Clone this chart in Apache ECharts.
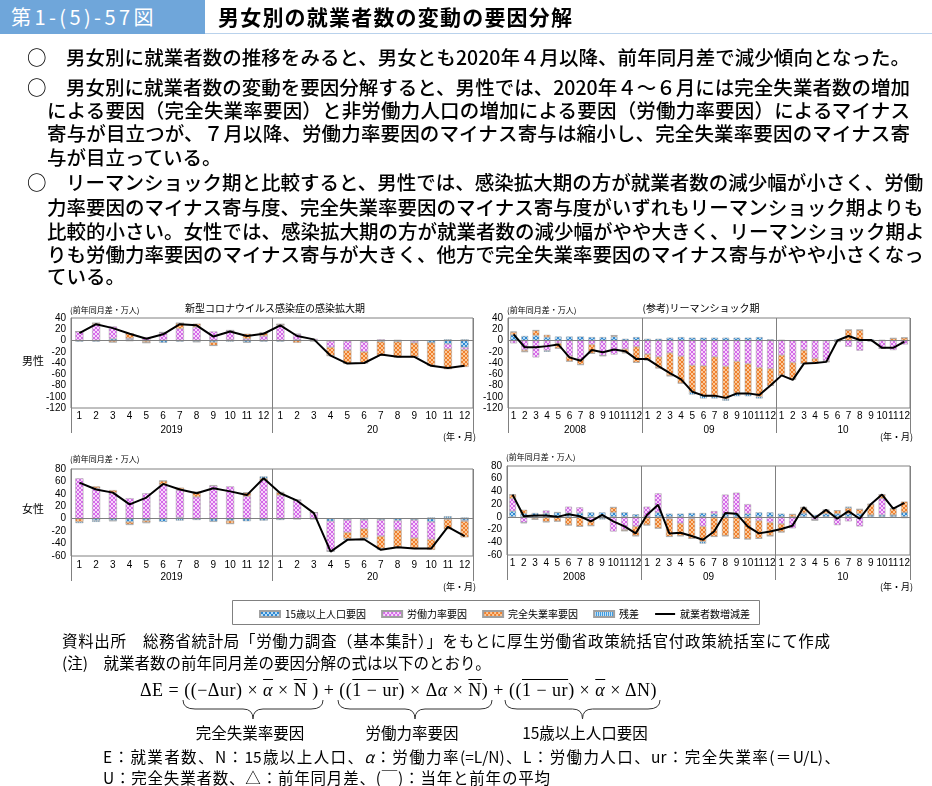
<!DOCTYPE html>
<html><head><meta charset="utf-8">
<script src="https://cdn.jsdelivr.net/npm/echarts@6/dist/echarts.min.js"></script>
<style>
body{margin:0;background:#fff;}
#wrap{position:relative;width:932px;height:786px;overflow:hidden;font-family:"Noto Sans CJK JP",sans-serif;background:#fff;}
#chart{position:absolute;left:0;top:0;width:932px;height:786px;}
.t{position:absolute;white-space:nowrap;line-height:1;color:#000;pointer-events:none;}
.j{text-align:justify;text-align-last:justify;}
.p{font-size:19.5px;font-weight:500;}
.n{font-size:15.5px;}
.s{font-family:"Liberation Serif","DejaVu Serif","Noto Sans CJK JP",serif;}
.ov{text-decoration:overline;}
.c{transform:translateX(-50%);}
</style></head><body>
<div id="wrap">
<div id="chart"></div>

<div style="position:absolute;left:0;top:0;width:205px;height:34px;background:#6fa6da"></div>
<div style="position:absolute;left:205px;top:33px;width:727px;height:1px;background:#b9d2ec"></div>
<div class="t" style="left:11px;top:7px;font-size:20px;color:#fff;letter-spacing:3.4px;">第1-(5)-57図</div>
<div class="t" style="left:218px;top:6px;font-size:21px;font-weight:bold;letter-spacing:1.2px;">男女別の就業者数の変動の要因分解</div>

<div class="t p" style="left:27px;top:47px;">○</div>
<div class="t p j" style="left:66px;top:47px;width:844px;">男女別に就業者数の推移をみると、男女とも2020年４月以降、前年同月差で減少傾向となった。</div>
<div class="t p" style="left:27px;top:77px;">○</div>
<div class="t p j" style="left:66px;top:77px;width:844px;">男女別に就業者数の変動を要因分解すると、男性では、2020年４～６月には完全失業者数の増加</div>
<div class="t p j" style="left:47px;top:100px;width:863px;">による要因（完全失業率要因）と非労働力人口の増加による要因（労働力率要因）によるマイナス</div>
<div class="t p j" style="left:47px;top:123px;width:863px;">寄与が目立つが、７月以降、労働力率要因のマイナス寄与は縮小し、完全失業率要因のマイナス寄</div>
<div class="t p" style="left:47px;top:147px;">与が目立っている。</div>
<div class="t p" style="left:27px;top:172px;">○</div>
<div class="t p j" style="left:66px;top:172px;width:844px;">リーマンショック期と比較すると、男性では、感染拡大期の方が就業者数の減少幅が小さく、労働</div>
<div class="t p j" style="left:47px;top:197px;width:863px;">力率要因のマイナス寄与度、完全失業率要因のマイナス寄与度がいずれもリーマンショック期よりも</div>
<div class="t p j" style="left:47px;top:221px;width:863px;">比較的小さい。女性では、感染拡大期の方が就業者数の減少幅がやや大きく、リーマンショック期よ</div>
<div class="t p j" style="left:47px;top:244px;width:863px;">りも労働力率要因のマイナス寄与が大きく、他方で完全失業率要因のマイナス寄与がやや小さくなっ</div>
<div class="t p" style="left:47px;top:266px;">ている。</div>

<div class="t c" style="left:275px;top:303px;font-size:10px;">新型コロナウイルス感染症の感染拡大期</div>
<div class="t c" style="left:701px;top:303px;font-size:10px;">(参考)リーマンショック期</div>
<div class="t" style="left:70px;top:306px;font-size:8px;">(前年同月差・万人)</div>
<div class="t" style="left:507px;top:306px;font-size:8px;">(前年同月差・万人)</div>
<div class="t" style="left:70px;top:455px;font-size:8px;">(前年同月差・万人)</div>
<div class="t" style="left:506px;top:453px;font-size:8px;">(前年同月差・万人)</div>
<div class="t" style="left:22px;top:355px;font-size:11px;">男性</div>
<div class="t" style="left:22px;top:503px;font-size:11px;">女性</div>
<div class="t" style="left:443px;top:432px;font-size:9px;">(年・月)</div>
<div class="t" style="left:880px;top:432px;font-size:9px;">(年・月)</div>
<div class="t" style="left:443px;top:582px;font-size:9px;">(年・月)</div>
<div class="t" style="left:880px;top:582px;font-size:9px;">(年・月)</div>

<div class="t n j" style="left:62px;top:633px;width:768px;">資料出所　総務省統計局「労働力調査（基本集計）」をもとに厚生労働省政策統括官付政策統括室にて作成</div>
<div class="t n" style="left:62px;top:655px;">(注)　就業者数の前年同月差の要因分解の式は以下のとおり。</div>
<div class="t s" style="left:140px;top:681px;font-size:18px;letter-spacing:0.5px;">ΔE = ((−Δur) × <span class="ov"><i>α</i></span> × <span class="ov">N</span> ) + ((<span class="ov">1 − ur</span>) × Δ<i>α</i> × <span class="ov">N</span>) + ((<span class="ov">1 − ur</span>) × <span class="ov"><i>α</i></span> × ΔN)</div>
<svg style="position:absolute;left:0;top:698px;pointer-events:none" width="932" height="26">
<path id="b1" fill="none" stroke="#333" stroke-width="1"/>
<path id="b2" fill="none" stroke="#333" stroke-width="1"/>
<path id="b3" fill="none" stroke="#333" stroke-width="1"/>
</svg>
<div class="t n c" style="left:250px;top:725px;">完全失業率要因</div>
<div class="t n c" style="left:412px;top:725px;">労働力率要因</div>
<div class="t n c" style="left:585px;top:725px;">15歳以上人口要因</div>
<div class="t n j" style="left:103px;top:749px;width:737px;">E：就業者数、N：15歳以上人口、<i>α</i>：労働力率(=L/N)、L：労働力人口、ur：完全失業率(＝U/L)、</div>
<div class="t n j" style="left:103px;top:770px;width:447px;">U：完全失業者数、△：前年同月差、(￣)：当年と前年の平均</div>
</div>

<script>
// ---------- tick / category labels ----------
const MONTHS12 = ['1','2','3','4','5','6','7','8','9','10','11','12'];
const monthsCovid = [...MONTHS12, ...MONTHS12];
const monthsLehman = [...MONTHS12, ...MONTHS12, ...MONTHS12];
const yearsCovid = ['2019', '20'];
const yearsLehman = ['2008', '09', '10'];
const seriesNames = ['15歳以上人口要因', '労働力率要因', '完全失業率要因', '残差', '就業者数増減差'];

// ---------- 男性・感染拡大期 (2019/1–2020/12) ----------
const menCovidPop   = [-2,-2,3,2,-1,-4,-2,-2,-3,1,-3,-2, -2,1,1,-1,-1,-2,-2,-2,-1,-4,-6,-12];
const menCovidLfr   = [16,28,22,2,6,14,21,24,16,17,3,8, 27,10,2,-11,-16,-18,2,1,-3,0,-9,-4];
const menCovidUnemp = [0,3,-3,9,-3,0,10,6,-6,0,9,6, 2,-4,-1,-15,-24,-20,-24,-27,-25,-40,-36,-31];
const menCovidResid = [0,0,0,-1,0,1,0,-1,0,-2,-1,0, 0,1,0,0,0,0,-1,-1,0,-1,2,2];
const menCovidTotal = [13,29,22,12,3,11,29,27,7,16,8,12, 27,8,2,-27,-41,-40,-25,-29,-29,-45,-49,-45];

// ---------- 男性・リーマンショック期 (2008/1–2010/12) ----------
const menLehmanPop   = [10,8,9,6,7,7,7,6,6,7,3,6, 3,3,5,6,5,5,5,5,5,5,6,2, 1,0,0,0,0,2,0,-2,2,1,0,0];
const menLehmanLfr   = [-5,-17,-30,-18,-5,-28,-33,-7,-27,-25,-15,-11, -24,-29,-22,-28,-44,-45,-29,-46,-37,-41,-48,-50, -26,-39,-17,-32,-36,-1,-11,-16,-1,-14,-17,-7];
const menLehmanUnemp = [5,-3,9,4,-9,-9,-10,-16,0,2,-7,-28, -11,-20,-41,-48,-48,-53,-71,-58,-57,-54,-52,-30, -36,-30,-24,-8,-2,-1,19,19,0,0,4,5];
const menLehmanResid = [1,0,0,-2,0,0,0,0,0,0,0,0, 0,0,0,0,-4,-5,-3,-3,-5,-4,-3,0, 0,0,0,0,0,0,0,0,0,0,0,0];
const menLehmanTotal = [11,-12,-12,-10,-7,-30,-36,-17,-21,-16,-19,-33, -33,-46,-58,-69,-91,-98,-98,-102,-94,-94,-97,-80, -62,-70,-41,-40,-38,0,8,1,1,-13,-13,-2];

// ---------- 女性・感染拡大期 ----------
const womenCovidPop   = [0,-3,-3,-5,-3,-5,2,-2,-4,-3,-4,-3, -2,-1,-1,-4,-2,-2,-2,-3,-2,-5,-1,-3];
const womenCovidLfr   = [65,49,42,33,41,55,44,35,53,52,36,62, 38,30,10,-48,-20,-14,-26,-15,-29,-28,1,-1];
const womenCovidUnemp = [-5,3,4,-4,-3,6,4,8,1,-5,6,3, 4,0,0,0,-10,-15,-20,-28,-17,-17,-16,-26];
const womenCovidResid = [-2,-2,-1,-1,-1,0,-3,0,-1,0,0,3, 1,0,0,-1,-2,-2,-2,0,0,2,3,2];
const womenCovidTotal = [58,47,42,23,34,56,47,41,49,44,38,65, 41,29,9,-53,-34,-33,-50,-46,-48,-48,-13,-28];

// ---------- 女性・リーマンショック期 ----------
const womenLehmanPop   = [9,5,6,6,7,6,6,7,7,7,7,4, 0,7,5,5,6,6,5,5,5,5,7,7, 5,0,5,3,5,5,5,5,3,3,3,7];
const womenLehmanLfr   = [20,-9,-2,4,0,10,9,-6,-2,-23,-20,-15, 16,30,-3,-10,-3,-15,4,30,33,15,-6,-9, -11,-18,1,-5,-1,-13,-7,-15,0,26,0,0];
const womenLehmanUnemp = [6,6,-2,-8,-7,-13,-15,-8,0,8,-2,-15, -13,-18,-28,-20,-31,-24,-31,-30,-34,-35,-28,-21, -13,4,9,0,6,5,9,7,17,6,10,17];
const womenLehmanResid = [0,-1,0,0,0,0,0,0,-2,0,0,0, 0,0,0,0,0,-3,0,0,0,0,0,0, 0,0,0,0,0,0,2,0,0,0,0,-2];
const womenLehmanTotal = [35,1,2,2,0,4,1,-7,3,-7,-15,-26, 3,19,-26,-25,-30,-36,-23,6,5,-15,-26,-23, -19,-14,15,-2,11,-3,9,-3,20,35,13,22];

// ---------- braces ----------
function brace(x1, x2){
  const m = (x1 + x2) / 2;
  return `M${x1},2 Q${x1},11 ${x1+12},11 L${m-10},11 Q${m},11 ${m},21 Q${m},11 ${m+10},11 L${x2-12},11 Q${x2},11 ${x2},2`;
}
document.getElementById('b1').setAttribute('d', brace(183, 323));
document.getElementById('b2').setAttribute('d', brace(338, 492));
document.getElementById('b3').setAttribute('d', brace(505, 660));

// ---------- patterns ----------
function pat(bg, fg, kind){
  const c = document.createElement('canvas'); c.width = 4; c.height = 4;
  const x = c.getContext('2d'); x.fillStyle = bg; x.fillRect(0,0,4,4); x.fillStyle = fg;
  if (kind === 'x') {
    [[0,0],[1,1],[2,2],[3,3],[3,0],[2,1],[1,2],[0,3]].forEach(p => x.fillRect(p[0], p[1], 1, 1));
  } else {
    x.fillRect(0,0,1,4); x.fillRect(2,0,1,4);
  }
  return {image: c, repeat: 'repeat'};
}
const fills = [
  pat('#b6ddf7', '#2f88d2', 'x'),
  pat('#f8d6fc', '#d46ae8', 'x'),
  pat('#fcc998', '#ee7f2e', 'x'),
  pat('#d6edfc', '#2a90dc', 's')
];

const panels = [
  {grid:{left:71, top:318, width:402, height:90}, months:monthsCovid, years:yearsCovid, min:-120, max:40,
   data:[menCovidPop, menCovidLfr, menCovidUnemp, menCovidResid, menCovidTotal], gap:'52%', mm:3, ym:17},
  {grid:{left:508, top:318, width:402, height:90}, months:monthsLehman, years:yearsLehman, min:-120, max:40,
   data:[menLehmanPop, menLehmanLfr, menLehmanUnemp, menLehmanResid, menLehmanTotal], gap:'40%', mm:3, ym:17},
  {grid:{left:71, top:469, width:402, height:87}, months:monthsCovid, years:yearsCovid, min:-60, max:80,
   data:[womenCovidPop, womenCovidLfr, womenCovidUnemp, womenCovidResid, womenCovidTotal], gap:'52%', mm:4, ym:16},
  {grid:{left:507, top:466, width:403, height:89}, months:monthsLehman, years:yearsLehman, min:-60, max:80,
   data:[womenLehmanPop, womenLehmanLfr, womenLehmanUnemp, womenLehmanResid, womenLehmanTotal], gap:'40%', mm:3, ym:17}
];

const gray = '#808080';
const FONT = '"Liberation Sans","Noto Sans CJK JP",sans-serif';
const option = {
  animation: false,
  textStyle: {fontFamily: FONT, color: '#000'},
  grid: [], xAxis: [], yAxis: [], series: [],
  legend: {
    left: 254, top: 604, itemWidth: 20, itemHeight: 6, itemGap: 15,
    textStyle: {fontSize: 10, color: '#000', fontFamily: '"Noto Sans CJK JP",sans-serif'},
    data: [
      {name: seriesNames[0], icon: 'rect'}, {name: seriesNames[1], icon: 'rect'},
      {name: seriesNames[2], icon: 'rect'}, {name: seriesNames[3], icon: 'rect'},
      {name: seriesNames[4], itemStyle: {color: 'rgba(0,0,0,0)', borderColor: 'rgba(0,0,0,0)', borderWidth: 0},
       lineStyle: {color: '#000', width: 2}}
    ]
  },
  graphic: [{type: 'rect', left: 230, top: 598, shape: {width: 527, height: 24},
             style: {fill: 'none', stroke: gray, lineWidth: 1}, silent: true}]
};

panels.forEach((p, g) => {
  option.grid.push(Object.assign({show: true, borderColor: gray, borderWidth: 1, backgroundColor: '#fff'}, p.grid));
  option.xAxis.push({
    type: 'category', gridIndex: g, data: p.months, position: 'bottom', boundaryGap: true,
    axisLine: {show: false, onZero: false}, axisTick: {show: false},
    axisLabel: {interval: 0, fontSize: 10, color: '#000', margin: p.mm}
  });
  option.xAxis.push({
    type: 'category', gridIndex: g, data: p.years, position: 'bottom', boundaryGap: true,
    axisLine: {show: false, onZero: false},
    axisTick: {show: true, interval: 0, length: 25, lineStyle: {color: gray}},
    axisLabel: {interval: 0, fontSize: 10, color: '#000', margin: p.ym},
    splitLine: {show: true, interval: 0, lineStyle: {color: gray, width: 1}}
  });
  option.yAxis.push({
    type: 'value', gridIndex: g, min: p.min, max: p.max, interval: 20,
    axisLine: {show: true, lineStyle: {color: gray}}, axisTick: {show: false},
    splitLine: {show: false}, axisLabel: {fontSize: 10, color: '#000', margin: 5}
  });
  for (let k = 0; k < 4; k++) {
    const s = {
      type: 'bar', name: seriesNames[k], xAxisIndex: 2*g, yAxisIndex: g, stack: 'st' + g,
      data: p.data[k], barCategoryGap: p.gap,
      itemStyle: {color: fills[k], borderColor: '#a0a0a0', borderWidth: 0.5}
    };
    if (k === 0) {
      s.markLine = {silent: true, symbol: 'none', label: {show: false},
        lineStyle: {color: gray, type: 'solid', width: 1}, data: [{yAxis: 0}]};
    }
    option.series.push(s);
  }
  option.series.push({
    type: 'line', name: seriesNames[4], xAxisIndex: 2*g, yAxisIndex: g, data: p.data[4],
    symbol: 'none', lineStyle: {color: '#000', width: 2}, itemStyle: {color: '#000'}, z: 5
  });
});

const chart = echarts.init(document.getElementById('chart'), null, {renderer: 'canvas'});
chart.setOption(option);
</script>
</body></html>
